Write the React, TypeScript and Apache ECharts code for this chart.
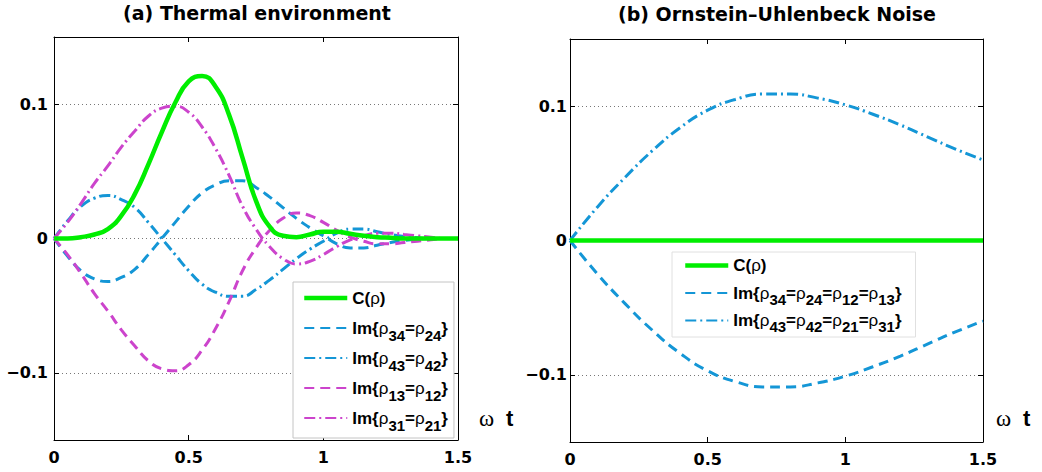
import React, { useEffect, useRef } from 'react';
import * as echarts from 'echarts';

const FONT = '"Liberation Sans", Arial, Helvetica, sans-serif';
const WIDE = '"DejaVu Sans", Verdana, sans-serif';
const SERIF = '"Liberation Serif", "DejaVu Serif", serif';

// ---- Panel (a): thermal environment ----
const tLeft = [0, 0.05, 0.1, 0.15, 0.2, 0.25, 0.3, 0.35, 0.4, 0.45, 0.5, 0.55, 0.6, 0.65, 0.7, 0.75, 0.8, 0.85, 0.9, 0.95, 1.0, 1.05, 1.1, 1.15, 1.2, 1.25, 1.3, 1.35, 1.4, 1.45, 1.5];
const cRhoLeft = [0, 0, 0.001, 0.003, 0.007, 0.017, 0.033, 0.055, 0.079, 0.101, 0.117, 0.121, 0.113, 0.092, 0.060, 0.028, 0.009, 0.002, 0.001, 0.003, 0.005, 0.005, 0.0035, 0.002, 0.001, 0.0005, 0, 0, 0, 0, 0];
const im34_24 = [0, -0.013, -0.024, -0.030, -0.032, -0.029, -0.023, -0.012, 0.000, 0.012, 0.024, 0.034, 0.040, 0.043, 0.043, 0.038, 0.031, 0.023, 0.015, 0.008, 0.002, -0.004, -0.007, -0.007, -0.005, -0.003, -0.0015, -0.0005, 0, 0, 0];
const im43_42 = [0, 0.013, 0.024, 0.030, 0.032, 0.029, 0.023, 0.012, 0.000, -0.012, -0.024, -0.034, -0.040, -0.043, -0.043, -0.038, -0.031, -0.023, -0.015, -0.008, -0.002, 0.004, 0.007, 0.007, 0.005, 0.003, 0.0015, 0.0005, 0, 0, 0];
const im13_12 = [0, -0.012, -0.026, -0.041, -0.054, -0.068, -0.080, -0.091, -0.097, -0.0985, -0.094, -0.083, -0.067, -0.047, -0.024, -0.007, 0.006, 0.015, 0.019, 0.017, 0.012, 0.006, 0.001, -0.002, -0.004, -0.004, -0.003, -0.002, -0.001, 0, 0];
const im31_21 = [0, 0.012, 0.026, 0.041, 0.054, 0.068, 0.080, 0.091, 0.097, 0.0985, 0.094, 0.083, 0.067, 0.047, 0.024, 0.007, -0.006, -0.015, -0.019, -0.017, -0.012, -0.006, -0.001, 0.002, 0.004, 0.004, 0.003, 0.002, 0.001, 0, 0];

// ---- Panel (b): Ornstein-Uhlenbeck noise ----
const tRight = [0, 0.1, 0.2, 0.3, 0.4, 0.5, 0.6, 0.7, 0.8, 0.9, 1.0, 1.1, 1.2, 1.3, 1.4, 1.5];
const cRhoRight = [0, 0, 0, 0, 0, 0, 0, 0, 0, 0, 0, 0, 0, 0, 0, 0];
const imDown = [0, -0.025, -0.047, -0.067, -0.084, -0.097, -0.105, -0.109, -0.109, -0.106, -0.101, -0.094, -0.086, -0.077, -0.068, -0.060];
const imUp = [0, 0.025, 0.047, 0.067, 0.084, 0.097, 0.105, 0.109, 0.109, 0.106, 0.101, 0.094, 0.086, 0.077, 0.068, 0.060];

const xTicks = [0, 0.5, 1, 1.5];
const yTicks = [-0.1, 0, 0.1];

const namesLeft = ['C(ρ)', 'Im{ρ34=ρ24}', 'Im{ρ43=ρ42}', 'Im{ρ13=ρ12}', 'Im{ρ31=ρ21}'];
const namesRight = ['C(ρ)', 'Im{ρ34=ρ24=ρ12=ρ13}', 'Im{ρ43=ρ42=ρ21=ρ31}'];
const titleLeft = '(a) Thermal environment';
const titleRight = '(b) Ornstein\u2013Uhlenbeck Noise';

const GREEN = '#00ee00';
const BLUE = '#1496d6';
const MAGENTA = '#cc44cc';
const DASH = [10, 6];
const DASHDOT = [11, 4, 2, 4];
const THICK = 4.5;

const zip = (xs: number[], ys: number[]) => xs.map((x, i) => [x, ys[i]]);

const legendFormatter = (name: string) =>
  name.replace(/ρ(\d\d)?/g, (_m, d) => (d ? `{r|ρ}{s|${d}}` : '{r|ρ}'));

const legendText = (lh: number, subLh: number) => ({
  fontFamily: FONT,
  fontSize: 17,
  fontWeight: 'bold',
  color: '#000',
  lineHeight: lh,
  rich: {
    r: { fontFamily: FONT, fontSize: 17, fontWeight: 'normal', color: '#000', lineHeight: lh },
    s: { fontFamily: FONT, fontSize: 15, fontWeight: 'bold', color: '#000', lineHeight: subLh, verticalAlign: 'bottom' },
  },
});

const legendData = (names: string[]) =>
  names.map((n, i) => (i === 0 ? { name: n, lineStyle: { width: THICK } } : { name: n }));

const yFmt = (v: number) => (v === 0 ? '0' : v < 0 ? '\u2212' + Math.abs(v) : String(v));

function axesFor(gridIndex: number, labelMargin: number) {
  const line = { show: true, onZero: false, lineStyle: { color: '#000', width: 1 } };
  const tick = { show: true, inside: true, length: 5, lineStyle: { color: '#000' } };
  const lab = { fontFamily: WIDE, fontSize: 16, fontWeight: 'bold', color: '#000' };
  const x = [
    {
      type: 'value', gridIndex, min: 0, max: 1.5, interval: 0.5, position: 'bottom',
      axisLine: line, axisTick: tick,
      axisLabel: { ...lab, margin: 9, customValues: xTicks },
      splitLine: { show: false },
    },
    {
      type: 'value', gridIndex, min: 0, max: 1.5, interval: 0.5, position: 'top',
      axisLine: line, axisTick: tick, axisLabel: { show: false }, splitLine: { show: false },
    },
  ];
  const y = [
    {
      type: 'value', gridIndex, min: -0.15, max: 0.15, position: 'left',
      axisLine: line, axisTick: { ...tick, customValues: yTicks },
      axisLabel: { ...lab, margin: labelMargin, customValues: yTicks, formatter: yFmt },
      splitLine: { show: true, lineStyle: { color: '#777', width: 1, type: [1, 3] } },
    },
    {
      type: 'value', gridIndex, min: -0.15, max: 0.15, position: 'right',
      axisLine: line, axisTick: { ...tick, customValues: yTicks },
      axisLabel: { show: false }, splitLine: { show: false },
    },
  ];
  return { x, y };
}

function lineSeries(name: string, xi: number, data: number[][], color: string, width: number, type: any, z = 2) {
  return {
    type: 'line', name, xAxisIndex: xi, yAxisIndex: xi, data,
    smooth: true, showSymbol: false, symbol: 'none', z,
    lineStyle: { color, width, type, cap: 'butt' },
    itemStyle: { color },
  };
}

function omegaT(x: number, y: number) {
  return [
    { type: 'text', x, y, style: { text: 'ω', font: `23px ${SERIF}`, fill: '#000', align: 'left', verticalAlign: 'middle', textAlign: 'left', textVerticalAlign: 'middle' } },
    { type: 'text', x: x + 27, y, style: { text: 't', font: `bold 22px ${FONT}`, fill: '#000', align: 'left', verticalAlign: 'middle', textAlign: 'left', textVerticalAlign: 'middle' } },
  ];
}

const titleStyle = (text: string) => ({
  text, font: `bold 19px ${WIDE}`, fill: '#000', align: 'center', verticalAlign: 'top', textAlign: 'center', textVerticalAlign: 'top',
});

export default function App() {
  const ref = useRef<HTMLDivElement>(null);
  useEffect(() => {
    document.body.style.margin = '0';
    const chart = echarts.init(ref.current!, null, { renderer: 'svg' });
    const a = axesFor(0, 6);
    const b = axesFor(1, 3);
    const legendCommon = {
      orient: 'vertical', selectedMode: false, itemWidth: 43, itemHeight: 14, itemGap: 0,
      backgroundColor: '#fff', borderWidth: 1,
      itemStyle: { opacity: 0, borderWidth: 0 },
      formatter: legendFormatter,
    };
    const option: any = {
      animation: false,
      backgroundColor: '#fff',
      grid: [
        { left: 54, top: 37, width: 404, height: 403 },
        { left: 570, top: 39, width: 413, height: 403 },
      ],
      xAxis: [...a.x, ...b.x],
      yAxis: [...a.y, ...b.y],
      legend: [
        {
          ...legendCommon, left: 293, top: 282, data: legendData(namesLeft),
          padding: [1, 6, 5, 9], borderColor: '#c4c4c4',
          textStyle: legendText(30, 12),
        },
        {
          ...legendCommon, left: 672, top: 252, data: legendData(namesRight),
          padding: [0, 14, 3, 11], itemGap: 0.5, borderColor: '#e0e0e0',
          textStyle: legendText(27, 9),
        },
      ],
      graphic: [
        { type: 'text', x: 257, y: 3, style: titleStyle(titleLeft) },
        { type: 'text', x: 777, y: 4, style: titleStyle(titleRight) },
        ...omegaT(479, 418),
        ...omegaT(996, 418),
      ],
      series: [
        lineSeries(namesLeft[1], 0, zip(tLeft, im34_24), BLUE, 3, DASH),
        lineSeries(namesLeft[2], 0, zip(tLeft, im43_42), BLUE, 3, DASHDOT),
        lineSeries(namesLeft[3], 0, zip(tLeft, im13_12), MAGENTA, 3, DASH),
        lineSeries(namesLeft[4], 0, zip(tLeft, im31_21), MAGENTA, 3, DASHDOT),
        lineSeries(namesLeft[0], 0, zip(tLeft, cRhoLeft), GREEN, THICK, 'solid', 3),
        { ...lineSeries(namesRight[1], 2, zip(tRight, imDown), BLUE, 3, DASH), yAxisIndex: 2 },
        { ...lineSeries(namesRight[2], 2, zip(tRight, imUp), BLUE, 3, DASHDOT), yAxisIndex: 2 },
        { ...lineSeries(namesRight[0], 2, zip(tRight, cRhoRight), GREEN, THICK, 'solid', 3), yAxisIndex: 2 },
      ],
    };
    chart.setOption(option);
    return () => chart.dispose();
  }, []);
  return <div ref={ref} style={{ width: 1042, height: 472 }} />;
}
